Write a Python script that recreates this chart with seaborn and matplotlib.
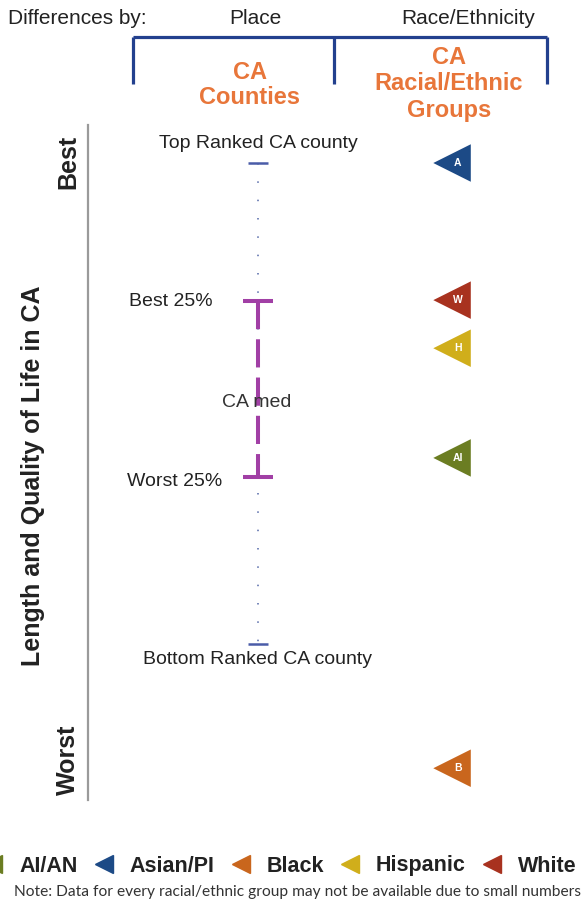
import numpy as np
import pandas as pd
import matplotlib
matplotlib.use("Agg")
import matplotlib.pyplot as plt
from matplotlib.lines import Line2D
import seaborn as sns

# rank scale: 0 = top ranked CA county, 100 = bottom ranked CA county
county_top = 0.0
county_q1 = 28.7
county_median = 49.7
county_q3 = 65.3
county_bottom = 100.0

groups = ["AI/AN", "Asian/PI", "Black", "Hispanic", "White"]
group_letters = ["AI", "A", "B", "H", "W"]
group_rank = [61.3, 0.0, 125.8, 38.5, 28.5]
group_colors = ["#6b7d22", "#1c4a86", "#c9661d", "#d0ae1b", "#a8321f"]

columns = ["CA Counties", "CA Racial/Ethnic Groups"]

sns.set_theme(style="white")
plt.rcParams["font.family"] = ["Liberation Sans", "DejaVu Sans"]

fig = plt.figure(figsize=(5.84, 9.11), dpi=100)
W, H = 584, 911

# main chart area (pixel box 88..584 x 125..800)
ax = fig.add_axes([88 / W, 1 - 800 / H, 496 / W, 675 / H])
ax.set_xlim(-0.876, 1.68)
ax.set_ylim(132.4, -7.9)
sns.despine(ax=ax, left=False, bottom=True, right=True, top=True)
ax.spines["left"].set_color("#9a9a9a")
ax.spines["left"].set_linewidth(1.6)
ax.set_xticks([])
ax.set_yticks([])

# county range
ax.vlines(0, county_top, county_bottom, color="#5468a8", lw=1.1, linestyles=(0, (1, 11)))
ax.hlines([county_top, county_bottom], -0.052, 0.052, color="#4a5ca8", lw=1.8)
ax.vlines(0, county_q1, county_q3, color="#a13fa5", lw=2.9, linestyles=(0, (7.0, 2.5)))
ax.hlines([county_q1, county_q3], -0.075, 0.075, color="#a13fa5", lw=2.9)

txt = dict(fontsize=14, color="#222222", textcoords="offset points")
ax.annotate("Top Ranked CA county", (0, county_top), xytext=(0, 8), ha="center", va="bottom", **txt)
ax.annotate("Bottom Ranked CA county", (0, county_bottom), xytext=(0, -5), ha="center", va="top", **txt)
ax.annotate("Best 25%", (0, county_q1), xytext=(-33, 0), ha="right", va="center", **txt)
ax.annotate("Worst 25%", (0, county_q3), xytext=(-26, -3), ha="right", va="center", **txt)
ax.annotate("CA med", (0, county_median), xytext=(-1, 0), ha="center", va="center",
            fontsize=14, color="#333333", textcoords="offset points")

# racial / ethnic groups
df = pd.DataFrame({"group": groups, "letter": group_letters, "rank": group_rank})
df["col"] = 1
palette = dict(zip(groups, group_colors))
sns.scatterplot(data=df, x="col", y="rank", hue="group", palette=palette, marker="<",
                s=27 ** 2, linewidth=0, legend=False, ax=ax, zorder=3)
ax.set_xlabel("")
ax.set_ylabel("")
for _, r in df.iterrows():
    ax.annotate(r["letter"], (r["col"], r["rank"]), xytext=(4, 0), textcoords="offset points",
                ha="center", va="center", fontsize=7.5, color="white", fontweight="bold", zorder=4)

# header and side labels
ov = fig.add_axes([0, 0, 1, 1], zorder=-1)
ov.set_xlim(0, W)
ov.set_ylim(H, 0)
ov.axis("off")

ov.text(8, 19, "Differences by:", ha="left", va="center", fontsize=15, color="#222222")
ov.text(255, 19, "Place", ha="center", va="center", fontsize=15, color="#222222")
ov.text(468, 19, "Race/Ethnicity", ha="center", va="center", fontsize=15, color="#222222")
ov.hlines(37, 133, 547, color="#23408e", lw=2.3)
ov.vlines([133, 334, 547], 37, 84, color="#23408e", lw=2.3)
orange = "#e8763a"
ov.text(250, 85, "CA\nCounties", ha="center", va="center", fontsize=17, fontweight="bold",
        color=orange, linespacing=1.15)
ov.text(449, 84, "CA\nRacial/Ethnic\nGroups", ha="center", va="center", fontsize=17,
        fontweight="bold", color=orange, linespacing=1.18)

ov.text(68, 162, "Best", rotation=90, ha="center", va="center", fontsize=18, fontweight="bold", color="#222222")
ov.text(68, 760, "Worst", rotation=90, ha="center", va="center", fontsize=18, fontweight="bold", color="#222222")
ov.text(33, 476, "Length and Quality of Life in CA", rotation=90, ha="center", va="center",
        fontsize=18, fontweight="bold", color="#222222")

# legend
handles = [Line2D([], [], marker="<", color=c, linestyle="none", markersize=13) for c in group_colors]
fig.legend(handles, groups, ncol=5, loc="center left", bbox_to_anchor=(-0.03, 1 - 866 / H),
           frameon=False, borderpad=0, borderaxespad=0, handlelength=1.0, handletextpad=0.7,
           columnspacing=0.72, prop={"size": 15.5, "weight": "bold"}, labelcolor="#222222")

ov.text(581, 892, "Note: Data for every racial/ethnic group may not be available due to small numbers",
        ha="right", va="center", fontsize=11.2, color="#333333", family=["Lato", "DejaVu Sans"])

fig.savefig("out.png", dpi=100)
